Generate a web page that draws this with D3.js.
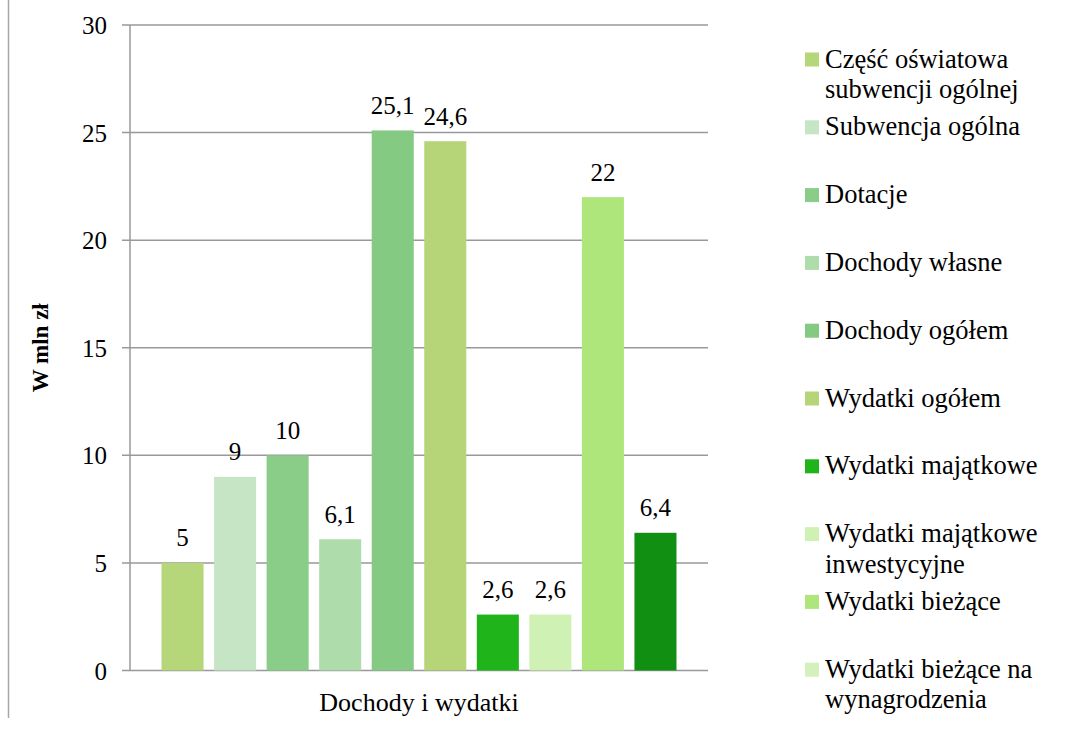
<!DOCTYPE html>
<html lang="pl">
<head>
    <meta charset="UTF-8">
    <title>Dochody i wydatki</title>
    <script src="https://d3js.org/d3.v7.min.js"></script>
    <style>
        body{ margin:0; background:#fff; }
        svg{ display:block; }
        svg text{ font-family:'Liberation Serif','Times New Roman',Tinos,serif; fill:#000; }
    </style>
</head>
<body>
<script>
    // data
    const category = ["Dochody i wydatki"]
    const seriesNames = ["Część oświatowa subwencji ogólnej","Subwencja ogólna","Dotacje","Dochody własne",
        "Dochody ogółem","Wydatki ogółem","Wydatki majątkowe","Wydatki majątkowe inwestycyjne",
        "Wydatki bieżące","Wydatki bieżące na wynagrodzenia"]
    const values = [5, 9, 10, 6.1, 25.1, 24.6, 2.6, 2.6, 22, 6.4]
    const colors = ["#b5d679","#c5e5c5","#89cd88","#aedcab","#84ca82","#b5d578","#1eb41a","#d0f1b4","#afe67c","#118f12"]
    // the legend swatch of the last series is drawn pale in the original
    const legendColors = ["#b5d679","#c5e5c5","#89cd88","#aedcab","#84ca82","#b5d578","#1eb41a","#d0f1b4","#afe67c","#d4f0bd"]
    const yTicks = [0, 5, 10, 15, 20, 25, 30]

    const W = 1081, H = 729
    const plot = {left:130, right:708, top:25, bottom:670.5}

    const svg = d3.select("body").append("svg").attr("width",W).attr("height",H)

    // outer chart border (only the left edge shows)
    svg.append("line").attr("x1",8.5).attr("x2",8.5).attr("y1",0).attr("y2",718)
        .attr("stroke","#a6a6a6").attr("stroke-width",1.5)

    const y = d3.scaleLinear().domain([0,30]).range([plot.bottom, plot.top])
    const x0 = d3.scaleBand().domain(category).range([plot.left, plot.right]).paddingOuter(0.05)
    const x1 = d3.scaleBand().domain(seriesNames).range([0, x0.bandwidth()]).paddingInner(0.2).paddingOuter(0.1)

    // gridlines + ticks
    svg.append("g").selectAll("line").data(yTicks).join("line")
        .attr("x1",plot.left-8).attr("x2",plot.right)
        .attr("y1",d=>y(d)).attr("y2",d=>y(d))
        .attr("stroke","#999").attr("stroke-width",1.5)

    svg.append("line").attr("x1",plot.left).attr("x2",plot.left)
        .attr("y1",plot.top).attr("y2",plot.bottom)
        .attr("stroke","#999").attr("stroke-width",1.5)

    svg.append("g").selectAll("text").data(yTicks).join("text")
        .attr("x",107).attr("y",d=>y(d)+9)
        .attr("text-anchor","end").style("font-size","25px")
        .text(d=>d)

    svg.append("text")
        .attr("transform","translate(48,"+((plot.top+plot.bottom)/2)+") rotate(-90)")
        .attr("text-anchor","middle").style("font-size","23px").style("font-weight","bold")
        .text("W mln zł")

    // bars
    const g = svg.append("g").attr("transform","translate("+x0(category[0])+",0)")
    g.selectAll("rect").data(values).join("rect")
        .attr("x",(d,i)=>x1(seriesNames[i]))
        .attr("width",x1.bandwidth())
        .attr("y",d=>y(d))
        .attr("height",d=>y(0)-y(d))
        .attr("fill",(d,i)=>colors[i])

    const fmt = v => String(v).replace(".",",")
    g.selectAll("text").data(values).join("text")
        .attr("x",(d,i)=>x1(seriesNames[i])+x1.bandwidth()/2)
        .attr("y",d=>y(d)-16.5)
        .attr("text-anchor","middle").style("font-size","25px")
        .text(d=>fmt(d))

    svg.append("text").attr("x",x0(category[0])+x0.bandwidth()/2).attr("y",710.5)
        .attr("text-anchor","middle").style("font-size","26px")
        .text(category[0])

    // legend
    const legend = svg.append("g")
    const legY = i => 59.5 + i*67.8
    seriesNames.forEach((name,i)=>{
        legend.append("rect").attr("x",805).attr("y",legY(i)-7).attr("width",14).attr("height",14)
            .attr("fill",legendColors[i])
        const t = legend.append("text").attr("x",825).attr("y",legY(i)+8).style("font-size","26.5px")
        // simple word wrap
        const words = name.split(" ")
        let line = []
        let ts = t.append("tspan").attr("x",825).attr("dy",0)
        words.forEach(w=>{
            line.push(w)
            ts.text(line.join(" "))
            if(ts.node().getComputedTextLength() > 235 && line.length > 1){
                line.pop()
                ts.text(line.join(" "))
                line = [w]
                ts = t.append("tspan").attr("x",825).attr("dy",30.5).text(w)
            }
        })
    })
</script>
</body>
</html>
